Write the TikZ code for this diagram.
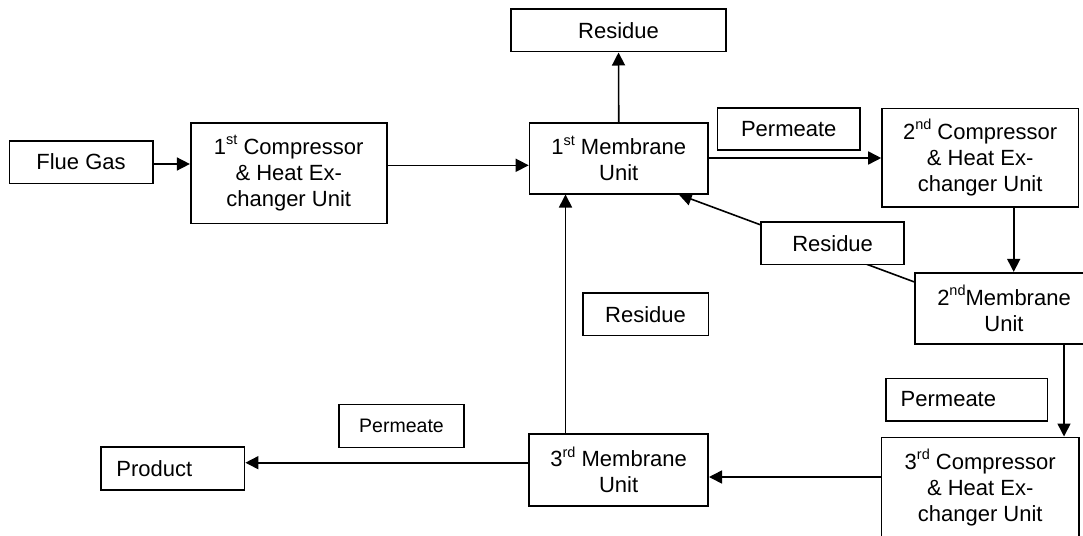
\documentclass[tikz,border=0pt]{standalone}
\usepackage{fontspec}
\setmainfont{Liberation Sans}
\usetikzlibrary{arrows.meta,calc,backgrounds}
\newcommand{\supr}[1]{\raisebox{0.42em}{\fontsize{14.5}{14.5}\selectfont #1}}
\begin{document}
\begin{tikzpicture}[x=1pt,y=-1pt,
  box/.style={draw, line width=1.6pt, fill=white, rectangle, inner sep=0pt, align=center, font=\fontsize{22}{26}\selectfont},
  arr/.style={line width=1.6pt, -{Triangle[length=13pt,width=13pt]}},
]
\useasboundingbox (0,0) rectangle (1083,535);
\clip (0,0) rectangle (1083,535);
% nodes
\node[box, minimum width=143.4pt, minimum height=42.6pt] (flue) at (81,162) {Flue Gas};
\node[box, minimum width=196pt, minimum height=100.6pt] (c1) at (288.7,173) {1\supr{st} Compressor\\ \& Heat Ex-\\ changer Unit};
\node[box, minimum width=178.5pt, minimum height=71pt] (m1) at (618.75,158.2) {1\supr{st} Membrane\\ Unit};
\node[box, minimum width=215pt, minimum height=42.4pt] (res1) at (618.5,30.5) {Residue};
\node[box, minimum width=142.5pt, minimum height=42.3pt] (perm1) at (788.75,128.85) {Permeate};
\node[box, minimum width=196.3pt, minimum height=98.4pt] (c2) at (980.15,157.5) {2\supr{nd} Compressor\\ \& Heat Ex-\\ changer Unit};
\node[box, minimum width=143.2pt, minimum height=42.3pt] (res2) at (832.6,243.35) {Residue};
\node[box, minimum width=178pt, minimum height=71.3pt] (m2) at (1004,308.35) {2\supr{nd}Membrane\\ Unit};
\node[box, minimum width=125.6pt, minimum height=42.5pt] (res3) at (645.5,314.25) {Residue};
\node[box, align=left, text width=131.6pt, inner xsep=15pt, minimum height=42.4pt] (perm2) at (966.5,399.5) {Permeate};
\node[box, minimum width=197.5pt, minimum height=100.4pt] (c3) at (980.25,487.5) {3\supr{rd} Compressor\\ \& Heat Ex-\\ changer Unit};
\node[box, minimum width=179.2pt, minimum height=72pt] (m3) at (618.6,470) {3\supr{rd} Membrane\\ Unit};
\node[box, minimum width=125pt, minimum height=43pt, font=\fontsize{19.5}{23}\selectfont] (perm3) at (401.5,425.8) {Permeate};
\node[box, align=left, text width=112.8pt, inner xsep=15.4pt, minimum height=43.3pt] (prod) at (172.8,468.35) {Product};
% helper coordinates
\coordinate (ya) at (0,164);
\coordinate (yb) at (0,165.3);
\coordinate (yc) at (0,158);
\coordinate (xd) at (1013.7,0);
\coordinate (xe) at (1064,0);
\coordinate (yf) at (0,477);
\coordinate (xg) at (565.5,0);
\coordinate (yh) at (0,462.7);
\coordinate (m2out) at ($(m2.north west)+(0,10)$);
\coordinate (m1in) at ($(m1.south east)+(-30,0)$);
% connectors
\begin{pgfonlayer}{background}
\fill[white] (0,0) rectangle (1083,535);
\draw[arr] (flue.east |- ya) -- (c1.west |- ya);
\draw[arr] (c1.east |- yb) -- (m1.west |- yb);
\draw[arr] (m1.north) -- (res1.south);
\draw[arr] (m1.east |- yc) -- (c2.west |- yc);
\draw[arr] (c2.south -| xd) -- (m2.north -| xd);
\draw[arr] (m2out) -- (m1in);
\draw[arr] (m2.south -| xe) -- (c3.north -| xe);
\draw[arr] (c3.west |- yf) -- (m3.east |- yf);
\draw[arr] (m3.north -| xg) -- (m1.south -| xg);
\draw[arr] (m3.west |- yh) -- (prod.east |- yh);
\end{pgfonlayer}
\end{tikzpicture}
\end{document}
